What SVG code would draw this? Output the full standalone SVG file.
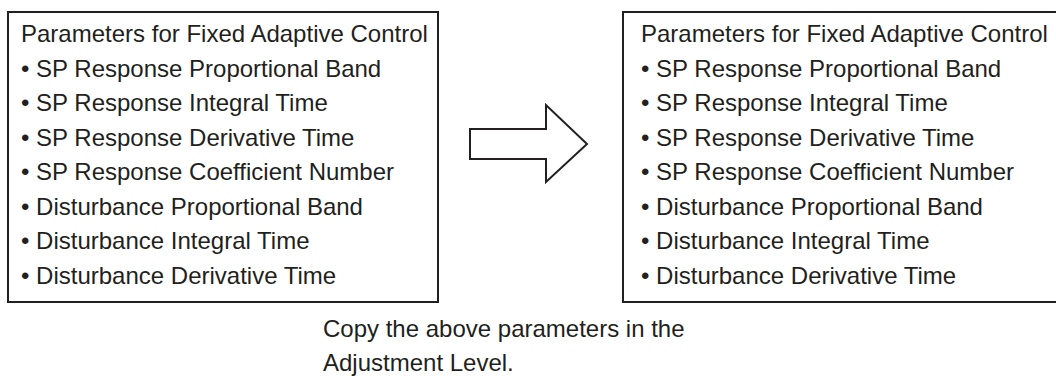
<svg xmlns="http://www.w3.org/2000/svg" width="1056" height="376" viewBox="0 0 1056 376">
  <style>
    .box { fill: #ffffff; stroke: #231f20; stroke-width: 2; }
    .arrow { fill: #ffffff; stroke: #231f20; stroke-width: 2; stroke-linejoin: miter; }
    text { font-family: "Liberation Sans", Arial, sans-serif; font-size: 24px; fill: #231f20; }
  </style>
  <rect width="1056" height="376" fill="#ffffff"/>
  <g id="source-box">
    <rect class="box" x="8" y="12" width="430" height="290"/>
    <text x="21" y="42">Parameters for Fixed Adaptive Control</text>
    <text x="21" y="76.5">• SP Response Proportional Band</text>
    <text x="21" y="111">• SP Response Integral Time</text>
    <text x="21" y="145.5">• SP Response Derivative Time</text>
    <text x="21" y="180">• SP Response Coefficient Number</text>
    <text x="21" y="214.5">• Disturbance Proportional Band</text>
    <text x="21" y="249">• Disturbance Integral Time</text>
    <text x="21" y="283.5">• Disturbance Derivative Time</text>
  </g>
  <g id="target-box">
    <rect class="box" x="623" y="12" width="440" height="290"/>
    <text x="641" y="42">Parameters for Fixed Adaptive Control</text>
    <text x="641" y="76.5">• SP Response Proportional Band</text>
    <text x="641" y="111">• SP Response Integral Time</text>
    <text x="641" y="145.5">• SP Response Derivative Time</text>
    <text x="641" y="180">• SP Response Coefficient Number</text>
    <text x="641" y="214.5">• Disturbance Proportional Band</text>
    <text x="641" y="249">• Disturbance Integral Time</text>
    <text x="641" y="283.5">• Disturbance Derivative Time</text>
  </g>
  <g id="connectors">
    <polygon class="arrow" points="470,129 546,129 546,105 587,144 546,182 546,159 470,159"/>
  </g>
  <g id="note">
    <text x="323" y="337">Copy the above parameters in the</text>
    <text x="323" y="371">Adjustment Level.</text>
  </g>
</svg>
